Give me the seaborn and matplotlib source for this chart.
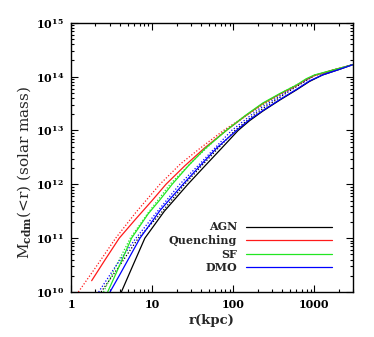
import numpy as np
import pandas as pd
import matplotlib
matplotlib.use("Agg")
import matplotlib.pyplot as plt
import matplotlib.ticker as mticker
import seaborn as sns

# log10(r / kpc) and log10(M / Msun)
agn_logr = [0.62, 0.75, 0.91, 1.15, 1.44, 1.65, 1.85, 2.06, 2.20, 2.365, 2.58, 2.776, 2.94, 3.10, 3.30, 3.47]
agn_logm = [10.0, 10.45, 11.0, 11.5, 12.0, 12.34, 12.66, 13.0, 13.18, 13.36, 13.57, 13.75, 13.91, 14.03, 14.13, 14.22]

quench_logr = [0.254, 0.42, 0.594, 0.80, 1.00, 1.17, 1.40, 1.65, 1.915, 2.15, 2.365, 2.58, 2.776, 2.90, 3.00, 3.20, 3.47]
quench_logm = [10.21, 10.60, 11.00, 11.36, 11.70, 12.00, 12.34, 12.68, 13.00, 13.27, 13.50, 13.68, 13.83, 13.95, 14.02, 14.11, 14.22]

sf_logr = [0.451, 0.55, 0.746, 0.95, 1.10, 1.246, 1.45, 1.65, 1.915, 2.15, 2.365, 2.58, 2.776, 2.90, 3.00, 3.20, 3.47]
sf_logm = [10.0, 10.33, 11.0, 11.45, 11.72, 12.0, 12.35, 12.66, 13.0, 13.28, 13.51, 13.69, 13.84, 13.96, 14.03, 14.11, 14.22]

dmo_logr = [0.48, 0.60, 0.85, 1.10, 1.38, 1.60, 1.80, 2.04, 2.20, 2.365, 2.58, 2.776, 2.94, 3.10, 3.30, 3.47]
dmo_logm = [10.0, 10.32, 11.0, 11.52, 12.0, 12.36, 12.68, 13.0, 13.2, 13.37, 13.58, 13.76, 13.92, 14.03, 14.13, 14.22]

# dotted companions of each run
agn_dot_logr = [0.37, 0.58, 0.83, 1.10, 1.40, 1.62, 2.02, 2.30, 2.70, 3.00, 3.47]
agn_dot_logm = [10.0, 10.45, 11.0, 11.45, 12.0, 12.36, 13.0, 13.34, 13.74, 14.02, 14.22]

quench_dot_logr = [0.09, 0.30, 0.55, 0.80, 1.095, 1.35, 1.60, 1.88, 2.20, 2.60, 3.00, 3.47]
quench_dot_logm = [10.0, 10.45, 11.0, 11.48, 12.0, 12.38, 12.68, 13.0, 13.32, 13.70, 14.02, 14.22]

sf_dot_logr = [0.40, 0.56, 0.73, 0.95, 1.22, 1.50, 1.90, 2.30, 2.70, 3.00, 3.47]
sf_dot_logm = [10.0, 10.5, 11.0, 11.47, 12.0, 12.43, 13.0, 13.42, 13.78, 14.02, 14.22]

dmo_dot_logr = [0.34, 0.55, 0.80, 1.05, 1.34, 1.60, 1.98, 2.30, 2.70, 3.00, 3.47]
dmo_dot_logm = [10.0, 10.48, 11.0, 11.47, 12.0, 12.40, 13.0, 13.38, 13.76, 14.02, 14.22]

runs = ["AGN", "Quenching", "SF", "DMO"]
colors = ["black", "#ff1a1a", "#22e622", "#0000ff"]
solid = [(agn_logr, agn_logm), (quench_logr, quench_logm), (sf_logr, sf_logm), (dmo_logr, dmo_logm)]
dotted = [(agn_dot_logr, agn_dot_logm), (quench_dot_logr, quench_dot_logm),
          (sf_dot_logr, sf_dot_logm), (dmo_dot_logr, dmo_dot_logm)]

sns.set_style("ticks")
plt.rcParams["font.family"] = ["DejaVu Serif"]
plt.rcParams["mathtext.fontset"] = "dejavuserif"

fig = plt.figure(figsize=(3.74, 3.37), dpi=100)
ax = fig.add_axes([0.19, 0.1335, 0.754, 0.799])

# dotted curves first, solid on top
for (lr, lm), c in zip(dotted, colors):
    d = pd.DataFrame({"r": 10 ** np.array(lr), "m": 10 ** np.array(lm)})
    sns.lineplot(data=d, x="r", y="m", color=c, linestyle=(0, (1, 1.5)), lw=0.9,
                 sort=False, estimator=None, ax=ax)

for (lr, lm), c, name in zip(solid, colors, runs):
    d = pd.DataFrame({"r": 10 ** np.array(lr), "m": 10 ** np.array(lm)})
    sns.lineplot(data=d, x="r", y="m", color=c, lw=0.9, sort=False, estimator=None,
                 label=name, ax=ax)

ax.set_xscale("log")
ax.set_yscale("log")
ax.set_xlim(1, 3000)
ax.set_ylim(1e10, 1e15)

ax.xaxis.set_major_locator(mticker.FixedLocator([1, 10, 100, 1000]))
ax.xaxis.set_major_formatter(mticker.FuncFormatter(lambda v, p: "%d" % v))
ax.xaxis.set_minor_locator(mticker.LogLocator(base=10, subs=np.arange(2, 10)))
ax.xaxis.set_minor_formatter(mticker.NullFormatter())
ax.yaxis.set_major_locator(mticker.FixedLocator([1e10, 1e11, 1e12, 1e13, 1e14, 1e15]))
ax.yaxis.set_major_formatter(mticker.FuncFormatter(
    lambda v, p: r"$\mathbf{10^{%d}}$" % round(np.log10(v))))
ax.yaxis.set_minor_locator(mticker.LogLocator(base=10, subs=np.arange(2, 10)))
ax.yaxis.set_minor_formatter(mticker.NullFormatter())

ax.tick_params(which="both", direction="in", top=True, right=True, width=0.8, colors="black")
ax.tick_params(which="major", length=5, labelsize=8, pad=5)
ax.tick_params(which="minor", length=2.5)
for lab in ax.get_xticklabels():
    lab.set_fontweight("bold")
for s in ax.spines.values():
    s.set_linewidth(1.0)
    s.set_color("black")

ax.set_xlabel("r(kpc)", fontsize=9.5, fontweight="bold", labelpad=3)
ax.set_ylabel(r"M$_{\mathbf{cdm}}$(<r) (solar mass)", fontsize=11)
ax.yaxis.set_label_coords(-0.135, 0.445)

leg = ax.legend(loc="upper right", bbox_to_anchor=(0.9245, 0.262), frameon=False,
                markerfirst=False, handlelength=7.7, handletextpad=0.8,
                labelspacing=0.22, borderpad=0, borderaxespad=0,
                prop={"family": "DejaVu Serif", "weight": "bold", "size": 8})

fig.savefig("out.png", dpi=100)
